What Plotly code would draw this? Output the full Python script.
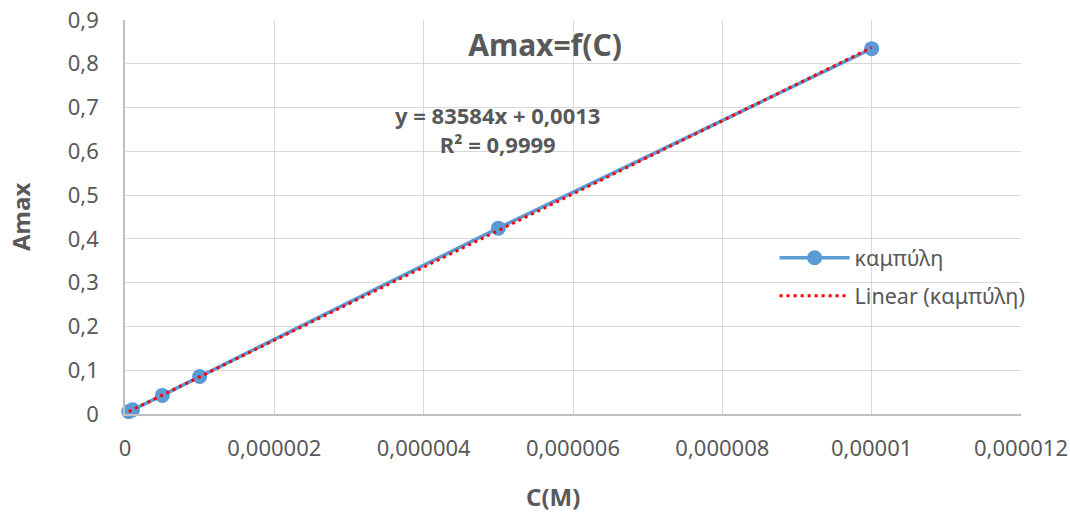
import plotly.graph_objects as go

# Data
conc = [5e-8, 1e-7, 5e-7, 1e-6, 5e-6, 1e-5]
amax = [0.0055, 0.0095, 0.0425, 0.0855, 0.4245, 0.8345]
slope = 83584
intercept = 0.0013
eq_text = "y = 83584x + 0,0013"
r2_text = "R² = 0,9999"

x_ticks = [0, 0.000002, 0.000004, 0.000006, 0.000008, 0.00001, 0.000012]
x_labels = ["0", "0,000002", "0,000004", "0,000006", "0,000008", "0,00001", "0,000012"]
y_ticks = [0, 0.1, 0.2, 0.3, 0.4, 0.5, 0.6, 0.7, 0.8, 0.9]
y_labels = ["0", "0,1", "0,2", "0,3", "0,4", "0,5", "0,6", "0,7", "0,8", "0,9"]

trend_x = [min(conc), max(conc)]
trend_y = [slope * v + intercept for v in trend_x]

FONT = "Noto Sans"
GREY = "#595959"

fig = go.Figure()
fig.add_trace(go.Scatter(
    x=conc, y=amax, mode="lines+markers", name="καμπύλη",
    line=dict(color="#5b9bd5", width=3.5),
    marker=dict(color="#5b9bd5", size=15),
    cliponaxis=False, legendgroup="a",
))
fig.add_trace(go.Scatter(
    x=trend_x, y=trend_y, mode="lines", name="Linear (καμπύλη)",
    line=dict(color="#ff0000", width=3, dash="3px,4px"),
    cliponaxis=False, legendgroup="b",
))

fig.update_layout(
    width=1070, height=513,
    margin=dict(l=125, r=49, t=20, b=99, autoexpand=False),
    paper_bgcolor="white", plot_bgcolor="white",
    font=dict(family=FONT, color=GREY, size=22),
    title=dict(text="<b>Amax=f(C)</b>", x=545/1070, y=1-45/513,
               xanchor="center", yanchor="middle",
               font=dict(size=30, color=GREY, family=FONT)),
    xaxis=dict(range=[0, 0.000012], tickvals=x_ticks, ticktext=x_labels,
               showgrid=True, gridcolor="#d9d9d9", gridwidth=1,
               showline=True, linecolor="#bfbfbf", linewidth=1.5,
               ticks="", ticklabelstandoff=14, zeroline=False, automargin=False,
               tickfont=dict(size=22, color=GREY, family=FONT)),
    yaxis=dict(range=[0, 0.9], tickvals=y_ticks, ticktext=y_labels,
               showgrid=True, gridcolor="#d9d9d9", gridwidth=1,
               showline=True, linecolor="#bfbfbf", linewidth=1.5,
               ticks="", ticklabelstandoff=20, zeroline=False, automargin=False,
               tickfont=dict(size=22, color=GREY, family=FONT)),
    legend=dict(x=0.725, y=(414-255)/394 + 0.045, xanchor="left", yanchor="top",
                bgcolor="rgba(0,0,0,0)", tracegroupgap=7,
                font=dict(size=21.5, color=GREY, family=FONT),
                itemwidth=70),
    showlegend=True,
)

fig.add_annotation(text="<b>" + eq_text + "<br>" + r2_text + "</b>",
                   xref="paper", yref="paper",
                   x=(497-125)/896, y=(414-129)/394, showarrow=False,
                   xanchor="center", yanchor="middle", align="center",
                   font=dict(size=22, color=GREY, family=FONT))
fig.add_annotation(text="<b>Amax</b>", xref="paper", yref="paper",
                   x=(20-125)/896, y=0.5, showarrow=False, textangle=-90,
                   xanchor="center", yanchor="middle",
                   font=dict(size=24, color=GREY, family=FONT))
fig.add_annotation(text="<b>C(M)</b>", xref="paper", yref="paper",
                   x=(553-125)/896, y=(414-497)/394, showarrow=False,
                   xanchor="center", yanchor="middle",
                   font=dict(size=24, color=GREY, family=FONT))

fig.write_html("out.html")
